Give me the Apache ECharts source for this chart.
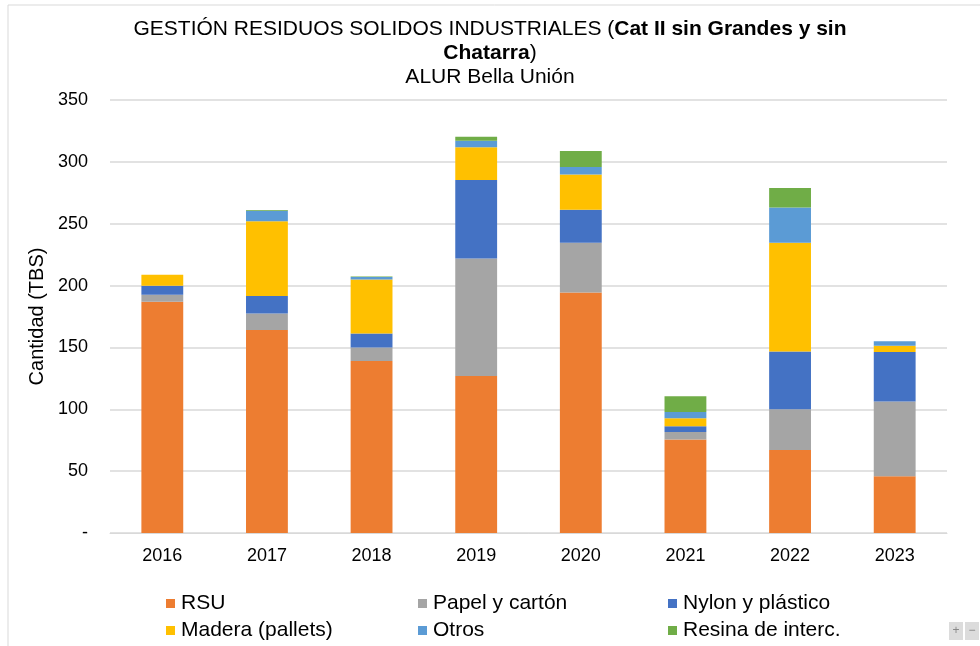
<!DOCTYPE html>
<html>
<head>
<meta charset="utf-8">
<script src="https://cdn.jsdelivr.net/npm/echarts@6/dist/echarts.min.js"></script>
<style>html,body{margin:0;padding:0;background:#fff}#c{width:980px;height:646px}</style>
</head>
<body>
<div id="c"></div>
<script>
const years = ['2016','2017','2018','2019','2020','2021','2022','2023'];
const rsu     = [187, 164, 139, 127, 194.4, 75.5, 67.1, 45.8];
const papel   = [5.5, 13.5, 11, 94.9, 40.2, 6.2, 32.9, 60.4];
const nylon   = [7.3, 14, 11.3, 63.4, 26.7, 4.6, 46.7, 40.2];
const madera  = [9, 60.4, 43.7, 26.6, 28.5, 6.4, 87.9, 4.9];
const otros   = [0, 8.6, 1.9, 5.2, 6, 5.2, 28.5, 3.7];
const resina  = [0, 0.5, 0.5, 3.2, 12.9, 12.6, 15.7, 0];
const yTicks = {min: 0, max: 350, interval: 50};

const F = '"Liberation Sans", Arial, sans-serif';
const seriesDefs = [
  ['RSU', rsu, '#ED7D31'],
  ['Papel y cartón', papel, '#A5A5A5'],
  ['Nylon y plástico', nylon, '#4472C4'],
  ['Madera (pallets)', madera, '#FFC000'],
  ['Otros', otros, '#5B9BD5'],
  ['Resina de interc.', resina, '#70AD47']
];
const legendCols = [166, 418, 668];
const legendRows = [593, 620];
const legends = seriesDefs.map((s, i) => ({
  left: legendCols[i % 3], top: legendRows[Math.floor(i / 3)], padding: 0,
  itemWidth: 9, itemHeight: 9, icon: 'rect', selectedMode: false,
  textStyle: {fontSize: 21, color: '#000', fontFamily: F, padding: [0, 0, 0, 1]},
  data: [s[0]]
}));
const chart = echarts.init(document.getElementById('c'));
chart.setOption({
  animation: false,
  textStyle: {fontFamily: F},
  title: {
    left: 'center', top: 12, itemGap: 4,
    text: '{n|GESTIÓN RESIDUOS SOLIDOS INDUSTRIALES (}{b|Cat II sin Grandes y sin}\n{b|Chatarra}{n|)}\n{n|ALUR Bella Unión}',
    textStyle: {
      fontSize: 21, fontFamily: F, lineHeight: 24, fontWeight: 'normal',
      rich: {
        n: {fontSize: 21, fontFamily: F, color: '#000', fontWeight: 'normal', lineHeight: 24},
        b: {fontSize: 21, fontFamily: F, color: '#000', fontWeight: 'bold', lineHeight: 24}
      }
    }
  },
  graphic: [
    {type: 'rect', shape: {x: 8, y: 5, width: 1000, height: 700}, style: {fill: 'none', stroke: '#d9d9d9', lineWidth: 1}, silent: true},
    {type: 'rect', shape: {x: 949, y: 622, width: 14, height: 18}, style: {fill: '#dcdcdc'}},
    {type: 'rect', shape: {x: 965, y: 622, width: 14, height: 18}, style: {fill: '#dcdcdc'}},
    {type: 'text', x: 956, y: 631, style: {text: '+', fill: '#888', fontSize: 12, align: 'center', verticalAlign: 'middle', fontFamily: F}},
    {type: 'text', x: 972, y: 631, style: {text: '−', fill: '#888', fontSize: 12, align: 'center', verticalAlign: 'middle', fontFamily: F}}
  ],
  legend: legends,
  grid: {left: 110, right: 33, top: 100, bottom: 113, containLabel: false},
  xAxis: {
    type: 'category', data: years,
    axisLine: {lineStyle: {color: '#d9d9d9', width: 1}},
    axisTick: {show: false},
    axisLabel: {color: '#000', fontSize: 18, margin: 14, fontFamily: F}
  },
  yAxis: {
    type: 'value', min: yTicks.min, max: yTicks.max, interval: yTicks.interval,
    name: 'Cantidad (TBS)', nameLocation: 'middle', nameGap: 61, nameRotate: 90,
    nameTextStyle: {fontSize: 20, color: '#000', fontFamily: F},
    axisLine: {show: false}, axisTick: {show: false},
    axisLabel: {color: '#000', fontSize: 18, margin: 22, fontFamily: F,
      formatter: v => v === 0 ? '-' : String(v)},
    splitLine: {lineStyle: {color: '#d9d9d9', width: 1.5}}
  },
  series: seriesDefs.map(s => ({
    name: s[0], type: 'bar', stack: 'a', data: s[1], barWidth: '40%',
    itemStyle: {color: s[2]}
  }))
});
</script>
</body>
</html>
